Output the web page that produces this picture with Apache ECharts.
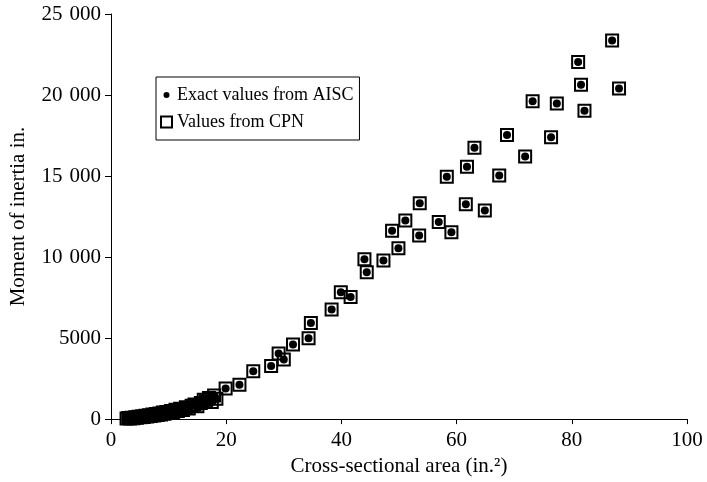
<!DOCTYPE html>
<html>
<head>
<meta charset="utf-8">
<script src="https://cdn.jsdelivr.net/npm/echarts@6/dist/echarts.min.js"></script>
<style>
  html, body { margin: 0; padding: 0; background: #fff; }
  #chart_container { width: 707px; height: 482px; }
</style>
</head>
<body>
<div id="chart_container"></div>
<script>
// cross-sectional area (in.^2) of each section
const areaValues = [
    2.7, 3.0, 3.3, 3.6, 3.9, 4.2, 4.5, 4.8, 5.1, 5.4, 5.7, 6.0, 6.3, 6.6, 6.9,
    7.2, 7.5, 7.8, 8.1, 8.4, 8.7, 9.0, 9.3, 9.6, 10.0, 10.4, 10.8, 11.2, 11.6, 12.0,
    12.5, 13.0, 13.5, 14.0, 14.5, 15.0, 15.6, 16.1, 16.5, 17.0, 17.5, 17.9, 18.3,
    19.9, 22.3, 24.7, 27.8, 29.1, 30.0, 31.6, 34.3, 34.7, 38.3, 39.9, 41.6, 44.0, 44.4,
    47.3, 49.9, 48.8, 51.1, 53.5, 53.6, 56.9, 59.1, 61.6, 64.9, 58.3, 61.8, 67.4, 63.1,
    71.9, 68.75, 76.4, 73.2, 77.4, 82.2, 81.1, 81.6, 88.2, 87.0
];
// moment of inertia, exact AISC values
const aiscValues = [
    30, 70, 40, 90, 60, 120, 80, 150, 110, 180, 130, 210, 160, 240, 190,
    280, 220, 310, 250, 350, 290, 400, 330, 440, 380, 500, 430, 570, 500, 640,
    560, 730, 650, 830, 900, 800, 1000, 1200, 1100, 1300, 1050, 1450, 1250,
    1890, 2120, 2950, 3280, 4050, 3680, 4600, 4990, 5930, 6760, 7830, 7530, 9860, 9060,
    9790, 10550, 11630, 12260, 11330, 13320, 12160, 11530, 13260, 12870, 14950, 15580, 15030, 16740,
    16210, 17540, 17400, 19620, 19470, 19030, 22040, 20630, 20410, 23360
];
// moment of inertia from the CPN
const cpnValues = [
    30, 70, 40, 90, 60, 120, 80, 150, 110, 180, 130, 210, 160, 240, 190,
    280, 220, 310, 250, 350, 290, 400, 330, 440, 380, 500, 430, 570, 500, 640,
    560, 730, 650, 830, 900, 800, 1000, 1200, 1100, 1300, 1050, 1450, 1250,
    1890, 2120, 2950, 3280, 4050, 3680, 4600, 4990, 5930, 6760, 7830, 7530, 9860, 9060,
    9790, 10550, 11630, 12260, 11330, 13320, 12160, 11530, 13260, 12870, 14950, 15580, 15030, 16740,
    16210, 17540, 17400, 19620, 19470, 19030, 22040, 20630, 20410, 23360
];

const xTickLabels = ['0', '20', '40', '60', '80', '100'];
const yTickLabels = ['0', '5000', '10\u2004000', '15\u2004000', '20\u2004000', '25\u2004000'];

const seriesNames = ['Exact values from AISC', 'Values from CPN'];

function to_points(xs, ys) {
    let pts = [];
    for (let i = 0; i < xs.length; i++) {
        pts.push([xs[i], ys[i]]);
    }
    return pts;
}

// small dot centred in an 11x11 box (corner specks keep the box size)
const dotIcon = 'path://M0,0L0.01,0L0,0.01ZM11,11L10.99,11L11,10.99ZM2.5,5.5A3,3 0 1,0 8.5,5.5A3,3 0 1,0 2.5,5.5Z';

document.addEventListener("DOMContentLoaded", function () {
    let chart_container = document.getElementById('chart_container');
    var chart = echarts.init(chart_container, null, { renderer: 'canvas' });

    const font = 'Liberation Serif';

    var option = {
        backgroundColor: '#fff',
        animation: false,
        textStyle: { fontFamily: font, color: '#000' },
        grid: { left: 107, right: 20, top: 14, bottom: 59 },

        legend: {
            orient: 'vertical',
            left: 156,
            top: 77,
            padding: [9, 6, 9, 4],
            itemGap: 9,
            itemWidth: 11,
            itemHeight: 11,
            borderColor: '#000',
            borderWidth: 1,
            textStyle: { fontFamily: font, fontSize: 18, color: '#000' },
            data: [
                { name: seriesNames[0], icon: dotIcon, itemStyle: { color: '#000', borderWidth: 0 } },
                { name: seriesNames[1], icon: 'rect', itemStyle: { color: '#fff', borderColor: '#000', borderWidth: 2 } }
            ]
        },

        xAxis: {
            type: 'value',
            min: 0, max: 100, interval: 20,
            name: 'Cross-sectional area (in.\u00b2)',
            nameLocation: 'middle',
            nameGap: 36,
            nameTextStyle: { fontFamily: font, fontSize: 21, color: '#000' },
            axisLine: { lineStyle: { color: '#000', width: 1 } },
            axisTick: { show: true, inside: false, length: 5, lineStyle: { color: '#000' } },
            axisLabel: {
                fontFamily: font, fontSize: 21, color: '#000', margin: 11,
                formatter: function (v) { return xTickLabels[Math.round(v / 20)]; }
            },
            splitLine: { show: false }
        },
        yAxis: {
            type: 'value',
            min: 0, max: 25000, interval: 5000,
            name: 'Moment of inertia in.',
            nameLocation: 'middle',
            nameGap: 82,
            nameTextStyle: { fontFamily: font, fontSize: 21, color: '#000' },
            axisLine: { show: true, lineStyle: { color: '#000', width: 1 } },
            axisTick: { show: true, inside: false, length: 6, lineStyle: { color: '#000' } },
            axisLabel: {
                fontFamily: font, fontSize: 21, color: '#000', margin: 10,
                formatter: function (v) { return yTickLabels[Math.round(v / 5000)]; }
            },
            splitLine: { show: false }
        },

        series: [
            {
                name: seriesNames[1],
                type: 'scatter',
                symbol: 'rect',
                symbolSize: 12,
                itemStyle: { color: 'rgba(255,255,255,0)', borderColor: '#000', borderWidth: 2, opacity: 1 },
                data: to_points(areaValues, cpnValues),
                z: 2
            },
            {
                name: seriesNames[0],
                type: 'scatter',
                symbol: 'circle',
                symbolSize: 8,
                itemStyle: { color: '#000', opacity: 1 },
                data: to_points(areaValues, aiscValues),
                z: 3
            }
        ]
    };

    if (chart) {
        chart.setOption(option);
    } else {
        console.error("Echart instance failed to init");
    }
});
</script>
</body>
</html>
